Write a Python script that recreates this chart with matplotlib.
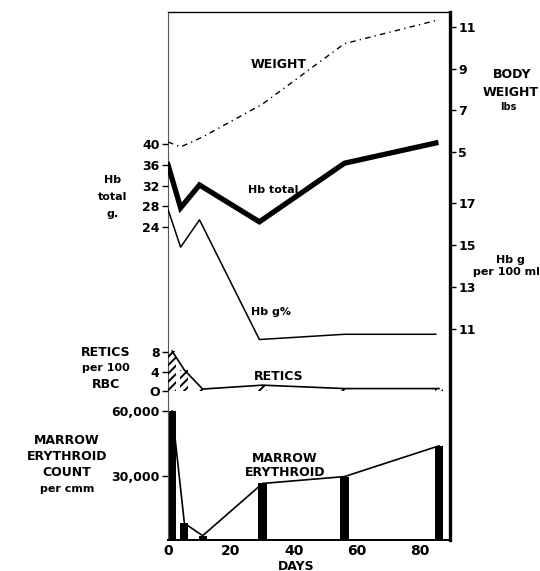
import numpy as np
import matplotlib
matplotlib.use("Agg")
import matplotlib.pyplot as plt

plt.rcParams['font.family'] = 'DejaVu Sans'
plt.rcParams['font.weight'] = 'bold'
plt.rcParams['hatch.linewidth'] = 1.4

# data
weight_days = [0, 4, 11, 30, 56, 86]
weight_lbs = [5.48, 5.24, 5.72, 7.3, 10.2, 11.35]

hb_days = [0, 4, 10, 29, 56, 85]
hb_total = [36.0, 27.7, 32.1, 25.0, 36.3, 40.2]
hb_pct = [16.7, 14.9, 16.2, 10.5, 10.75, 10.75]

retic_days = [1.3, 5.2, 11, 30, 56, 86]
retic_vals = [8.2, 4.3, 0.4, 1.2, 0.5, 0.5]

marrow_days = [1.3, 5.2, 11, 30, 56, 86]
marrow_counts = [60000, 7800, 2000, 26300, 29500, 43800]

day_ticks = [0, 20, 40, 60, 80]
hb_total_ticks = [24, 28, 32, 36, 40]
weight_ticks = [5, 7, 9, 11]
hb_pct_ticks = [11, 13, 15, 17]
retic_ticks = [0, 4, 8]
marrow_ticks = [30000, 60000]
marrow_ticklabels = ['30,000', '60,000']

W, H = 540, 571
fig = plt.figure(figsize=(W / 100, H / 100), dpi=100)
rect = [168 / W, 31 / H, 282 / W, 528 / H]

FS = 9


def px(x, y):
    return x / W, 1 - y / H


def overlay(side):
    a = fig.add_axes(rect, sharex=ax)
    a.patch.set_visible(False)
    for s in a.spines.values():
        s.set_visible(False)
    a.xaxis.set_visible(False)
    a.yaxis.set_ticks_position(side)
    a.tick_params(axis='y', length=4, width=1, pad=2, labelsize=FS)
    return a


# base axes: marrow erythroid count
ax = fig.add_axes(rect)
ax.bar(marrow_days, marrow_counts, width=2.6, color='black')
ax.plot(marrow_days, marrow_counts, color='black', lw=1.2)
ax.set_xlim(0, 89.5)
ax.set_ylim(0, 245600)
ax.set_xticks(day_ticks)
ax.set_yticks(marrow_ticks)
ax.set_yticklabels(marrow_ticklabels)
ax.tick_params(axis='x', length=0, pad=3, labelsize=FS + 1)
ax.tick_params(axis='y', length=4, width=1, pad=2, labelsize=FS)
ax.spines['left'].set_linewidth(0.8)
ax.spines['left'].set_color('0.35')
ax.spines['right'].set_linewidth(2.4)
ax.spines['top'].set_linewidth(1.0)
ax.spines['bottom'].set_linewidth(1.4)

# retics
ar = overlay('left')
ar.bar(retic_days, retic_vals, width=2.6, fill=False, hatch='////',
       edgecolor='black', lw=0)
ar.plot(retic_days, retic_vals, color='black', lw=1.2)
ar.set_ylim(-30.56, 77.74)
ar.set_yticks(retic_ticks)
ar.set_yticklabels(['O', '4', '8'])

# Hb total
at = overlay('left')
at.plot(hb_days, hb_total, color='black', lw=3.8, solid_joinstyle='miter')
at.set_ylim(-36.34, 65.45)
at.set_yticks(hb_total_ticks)

# Hb g per 100 ml
ap = overlay('right')
ap.plot(hb_days, hb_pct, color='black', lw=1.1)
ap.set_ylim(0.952, 26.1)
ap.set_yticks(hb_pct_ticks)

# body weight
aw = overlay('right')
aw.plot(weight_days, weight_lbs, color='black', lw=1.0, dashes=(4, 3, 1, 3))
aw.set_ylim(-13.63, 11.72)
aw.set_yticks(weight_ticks)

# labels inside the plot
def label(x, y, s, size=FS, **kw):
    fig.text(*px(x, y), s, ha='center', va='center', fontsize=size,
             fontweight='bold', **kw)


label(279, 65, 'WEIGHT')
label(273, 190, 'Hb total', size=8)
label(271, 312, 'Hb g%', size=8)
label(279, 377, 'RETICS')
label(285, 458, 'MARROW')
label(285, 473, 'ERYTHROID')

# left side titles
label(113, 180, 'Hb', size=8)
label(113, 197, 'total', size=8)
label(113, 214, 'g.', size=8)
label(106, 352, 'RETICS')
label(106, 368, 'per 100', size=8)
label(106, 385, 'RBC')
label(67, 440, 'MARROW')
label(67, 457, 'ERYTHROID')
label(67, 473, 'COUNT')
label(67, 489, 'per cmm', size=8)

# right side titles
label(512, 74, 'BODY')
label(511, 92, 'WEIGHT')
label(508, 107, 'lbs', size=7)
label(510, 260, 'Hb g', size=8)
label(506, 272, 'per 100 ml', size=8)

label(296, 566, 'DAYS')

fig.savefig('out.png', dpi=100)
